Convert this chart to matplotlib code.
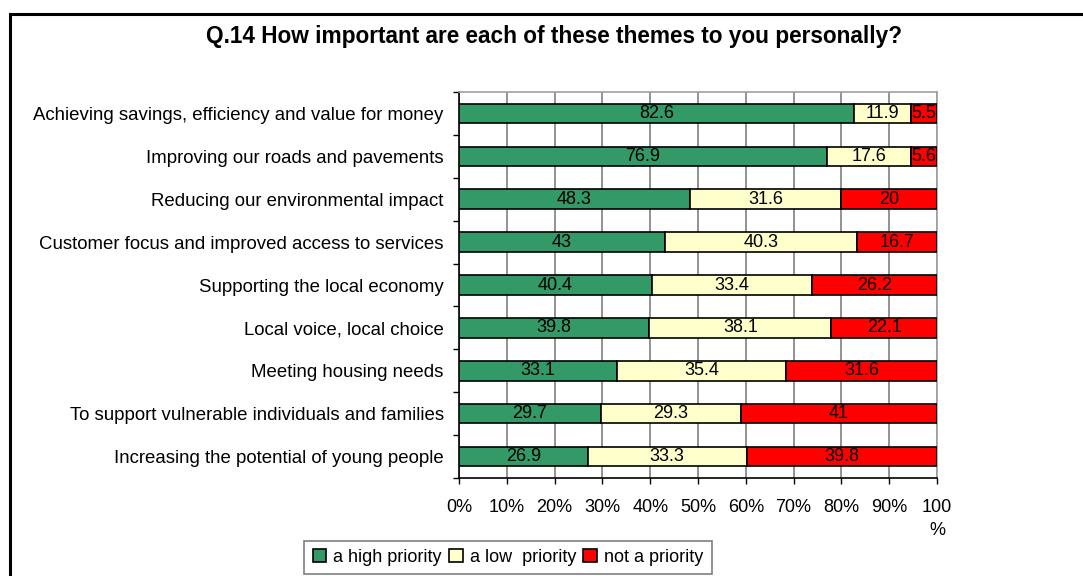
import matplotlib
matplotlib.use("Agg")
import matplotlib.pyplot as plt
from matplotlib.patches import Rectangle
from matplotlib.ticker import FixedLocator
import numpy as np

plt.rcParams['font.family'] = ['Liberation Sans', 'DejaVu Sans']

themes = [
    "Achieving savings, efficiency and value for money",
    "Improving our roads and pavements",
    "Reducing our environmental impact",
    "Customer focus and improved access to services",
    "Supporting the local economy",
    "Local voice, local choice",
    "Meeting housing needs",
    "To support vulnerable individuals and families",
    "Increasing the potential of young people",
]
high_priority = [82.6, 76.9, 48.3, 43, 40.4, 39.8, 33.1, 29.7, 26.9]
low_priority = [11.9, 17.6, 31.6, 40.3, 33.4, 38.1, 35.4, 29.3, 33.3]
not_priority = [5.5, 5.6, 20, 16.7, 26.2, 22.1, 31.6, 41, 39.8]
series_names = ["a high priority", "a low  priority", "not a priority"]
series_colors = ["#339966", "#FFFFCC", "#FF0000"]
x_ticks = [0, 10, 20, 30, 40, 50, 60, 70, 80, 90, 100]
x_tick_labels = ["0%", "10%", "20%", "30%", "40%", "50%", "60%", "70%", "80%", "90%", "100\n%"]

FS = 13

fig = plt.figure(figsize=(10.83, 5.76), dpi=100)

# outer chart frame (top and left edges visible)
fig.patches.append(Rectangle((10 / 1083, -0.1), 1.2, (576 - 14) / 576 + 0.1,
                             transform=fig.transFigure, fill=False,
                             edgecolor="black", linewidth=2.2, zorder=0))

ax = fig.add_axes([459 / 1083, 1 - 478 / 576, 478 / 1083, 386 / 576])

y = np.arange(len(themes))
bar_h = 0.455
left = np.zeros(len(themes))
handles = []
for vals, name, col in zip([high_priority, low_priority, not_priority], series_names, series_colors):
    vals = np.array(vals, dtype=float)
    h = ax.barh(y, vals, left=left, height=bar_h, color=col, edgecolor="black",
                linewidth=1.2, label=name, zorder=3)
    handles.append(h)
    for yi, l, v in zip(y, left, vals):
        ax.text(l + v / 2, yi, f"{v:g}", ha="center", va="center",
                fontsize=FS, color="black", zorder=4)
    left += vals

ax.set_xlim(0, 100)
ax.set_ylim(len(themes) - 0.5, -0.5)
ax.set_xticks(x_ticks)
ax.set_xticklabels(x_tick_labels, fontsize=FS, va="top", linespacing=1.45)
ax.tick_params(axis="x", direction="out", length=4, width=1, pad=11, color="black")
ax.set_yticks(y)
ax.set_yticklabels(themes, fontsize=13.4)
ax.yaxis.set_minor_locator(FixedLocator(np.arange(-0.5, len(themes), 1)))
ax.tick_params(axis="y", which="major", length=0, pad=11)
ax.tick_params(axis="y", which="minor", direction="out", length=4, width=1, color="black")

ax.grid(axis="x", color="#808080", linewidth=1.2, zorder=0)
for side in ["top", "right"]:
    ax.spines[side].set_color("#A0A0A0")
    ax.spines[side].set_linewidth(1.2)
for side in ["left", "bottom"]:
    ax.spines[side].set_color("black")
    ax.spines[side].set_linewidth(1.2)

fig.text(554 / 1083, 1 - 37 / 576, "Q.14 How important are each of these themes to you personally?",
         ha="center", va="center", fontsize=16.3, fontweight="bold")

leg = fig.legend(handles=handles, labels=series_names, loc="upper center",
                 bbox_to_anchor=(508 / 1083, 1 - 541 / 576), ncol=3, frameon=True,
                 fancybox=False, edgecolor="#606060", fontsize=FS,
                 handlelength=0.75, handleheight=0.75, handletextpad=0.4,
                 columnspacing=0.4, borderpad=0.45, borderaxespad=0)
leg.get_frame().set_linewidth(1.2)

fig.savefig("out.png", dpi=100)
